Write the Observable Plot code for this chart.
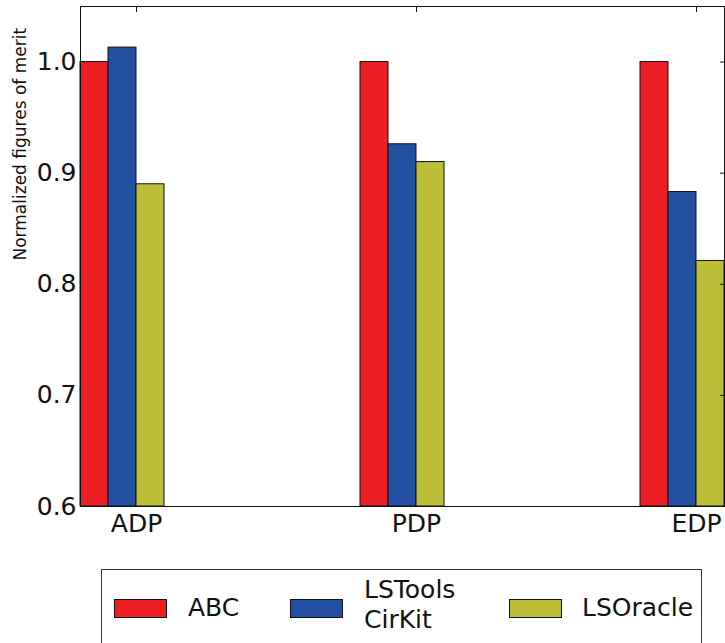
<!DOCTYPE html>
<html>
<head>
<meta charset="utf-8">
<script src="https://cdn.jsdelivr.net/npm/d3@7"></script>
<script src="https://cdn.jsdelivr.net/npm/@observablehq/plot@0.6"></script>
<style>
  html, body { margin: 0; padding: 0; background: #fff; }
  body { width: 725px; height: 643px; overflow: hidden; font-family: "DejaVu Sans", sans-serif; }
  #chart svg { display: block; }
  #legend {
    position: relative;
    margin-left: 101px;
    margin-top: 19px;
    width: 599px;
    height: 100px;
    border: 1.5px solid #333;
    box-sizing: content-box;
  }
  .swatch { position: absolute; top: 29px; width: 51px; height: 17px; border: 1px solid #111; }
  .entry { position: absolute; font-size: 25px; line-height: 30px; color: #111; white-space: pre; }
</style>
</head>
<body>
<div id="chart"></div>
<div id="legend"></div>
<script>
// Figures of merit per metric, normalized to ABC
const categories = ["ADP", "PDP", "EDP"];
const series = ["ABC", "LSTools\nCirKit", "LSOracle"];
const colors = ["#ed1e24", "#234fa0", "#bcbe37"];
const abcValues = [1.0, 1.0, 1.0];
const lstoolsValues = [1.013, 0.926, 0.883];
const lsoracleValues = [0.890, 0.910, 0.821];
const yTicks = [0.6, 0.7, 0.8, 0.9, 1.0];

const seriesValues = [abcValues, lstoolsValues, lsoracleValues];
const barWidth = 0.1;
const yMin = 0.6;

const rows = categories.flatMap((category, i) =>
  series.map((name, j) => ({
    category, name, group: i, slot: j, value: seriesValues[j][i]
  }))
);
const groupTicks = categories.map((_, i) => i + 2 * barWidth);

const chart = Plot.plot({
  width: 725,
  height: 550,
  marginLeft: 80,
  marginRight: 1,
  marginTop: 6,
  marginBottom: 44,
  style: { fontFamily: "DejaVu Sans", fontSize: "25px", color: "#111", background: "white" },
  x: { domain: [0, 2.3], label: null },
  y: { domain: [yMin, 1.05], label: null },
  color: { domain: series, range: colors },
  marks: [
    Plot.rectY(rows, {
      x1: d => d.group + d.slot * barWidth,
      x2: d => d.group + (d.slot + 1) * barWidth,
      y1: yMin,
      y2: "value",
      fill: "name",
      stroke: "#111",
      strokeWidth: 1
    }),
    Plot.axisY({ ticks: yTicks, tickFormat: ".1f", tickSize: 0, tickPadding: 4, fontSize: 25, label: null }),
    Plot.axisY({ anchor: "right", ticks: yTicks, tickSize: -5, tickFormat: () => "", label: null }),
    Plot.axisX({ anchor: "top", ticks: groupTicks, tickSize: -5, tickFormat: () => "", label: null }),
    Plot.axisX({
      anchor: "bottom", ticks: groupTicks, tickSize: 0, tickPadding: 8, fontSize: 25, label: null,
      tickFormat: (d, i) => categories[i]
    }),
    Plot.text(["Normalized figures of merit"], {
      frameAnchor: "left", rotate: -90, dx: -60, dy: 4, fontSize: 17, fill: "#111"
    }),
    Plot.frame({ stroke: "#111", strokeWidth: 1 })
  ]
});
document.getElementById("chart").append(chart);

// Legend: swatch + label per series
const legend = document.getElementById("legend");
const swatchLeft = [12, 188, 407];
const labelLeft = [86, 262, 480];
series.forEach((name, j) => {
  const sw = document.createElement("div");
  sw.className = "swatch";
  sw.style.left = swatchLeft[j] + "px";
  sw.style.background = colors[j];
  legend.append(sw);
  const lab = document.createElement("div");
  lab.className = "entry";
  lab.style.left = labelLeft[j] + "px";
  const lines = name.split("\n").length;
  lab.style.top = (lines > 1 ? 5 : 23) + "px";
  lab.textContent = name;
  legend.append(lab);
});
</script>
</body>
</html>
